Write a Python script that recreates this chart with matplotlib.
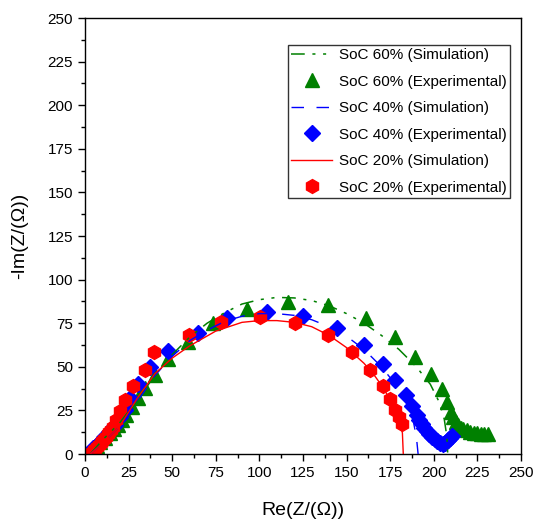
import numpy as np
import matplotlib
matplotlib.use('Agg')
import matplotlib.pyplot as plt
from matplotlib.ticker import MultipleLocator

plt.rcParams['font.family'] = ['Liberation Sans', 'DejaVu Sans']

# SoC 60%
sim60_re = [3, 10, 20, 30, 40, 50, 60, 70, 80, 90, 100, 110, 120, 130, 140, 150, 160, 170, 180, 190, 198, 203, 206, 207.5, 208]
sim60_im = [0, 8, 18, 31, 45, 57, 67, 75, 81, 86, 88.5, 89.8, 89.5, 88, 85, 80.5, 75, 68, 60, 50, 40, 30, 20, 10, 0]
exp60_re = [4.8, 6.7, 8.6, 11.5, 14.3, 16.7, 19.1, 21.3, 23.5, 26.8, 30.6, 34.4, 40.1, 47.8, 59.2, 73.6, 92.7,
            116.6, 139.5, 161.1, 177.8, 189.2, 198.4, 204.5, 207.4, 209.7, 211, 212.5, 214, 215.5, 217,
            219, 221, 223, 225, 227, 229, 231]
exp60_im = [2.3, 4.6, 7, 9.4, 11.8, 14.2, 16.6, 19.5, 22.4, 27.1, 31.9, 37.7, 45.3, 54.3, 64.4, 74.9, 83,
            87.3, 85.4, 77.8, 67.3, 55.8, 45.7, 37.1, 30, 24.3, 21, 18.5, 16.5, 15.2, 14.2,
            13.5, 12.8, 12.3, 12, 11.7, 11.5, 11.3]

# SoC 40%
sim40_re = [3, 10, 20, 30, 40, 50, 60, 70, 80, 90, 100, 110, 120, 130, 140, 150, 160, 170, 178, 184, 188, 190, 191]
sim40_im = [0, 6, 16, 30, 45, 56, 65, 71, 76, 79, 80.5, 80.5, 79.5, 77, 73, 67.5, 60, 50, 40, 30, 20, 10, 0]
exp40_re = [2.9, 4.8, 6.7, 8.1, 9.5, 11, 12.4, 13.7, 15, 16.1, 17.2, 20, 22.9, 25.8, 30.6, 37.3, 47.8, 65,
            81.2, 104.2, 124.8, 144.7, 160, 171, 178, 183.9, 187.3, 190.2, 191.5, 193, 194.5, 196, 197.5,
            199, 200.5, 202, 203.5, 205, 206.5, 208, 209.2, 210.2]
exp40_im = [1.3, 3.2, 5.2, 6.6, 8, 9.5, 10.9, 12.5, 14, 15.3, 16.6, 21, 25.2, 31.9, 40, 49.7, 59.1, 69.6,
            78.2, 81.2, 79.3, 72, 62.5, 51.4, 42.4, 33.8, 27.5, 22.4, 19.5, 17, 15, 13, 11.3,
            9.8, 8.5, 7.3, 6.5, 6, 6.5, 7.8, 9, 10.3]

# SoC 20%
sim20_re = [3, 10, 20, 30, 40, 50, 60, 75, 90, 100, 110, 120, 130, 140, 150, 160, 166, 171, 175, 178, 180.5, 182, 182.5]
sim20_im = [0, 6, 16, 32, 46, 55, 62, 70.5, 75.5, 76.5, 76.5, 75.5, 73, 68, 61, 52, 45, 38, 31, 25, 19, 12, 0]
exp20_re = [3.8, 5, 6, 7, 8, 9, 10, 11, 12, 13, 14, 15, 15.9, 17.8, 20.1, 22.9, 27.7, 34.4, 39.6, 59.8, 78,
            100.3, 120.4, 139.2, 153.3, 163.4, 170.7, 175.1, 177.8, 180.2, 182]
exp20_im = [1.3, 2.2, 3, 4.2, 5, 6.2, 7.5, 8.7, 10, 11.2, 12.5, 14, 15.7, 19.5, 24.7, 31, 39, 48.2, 58.7,
            68.2, 75.9, 78.7, 75.3, 68.2, 58.3, 48.2, 39, 31.5, 25.2, 21, 17.2]

fig = plt.figure(figsize=(5.36, 5.19), dpi=100)
ax = fig.add_axes([0.1586, 0.1252, 0.8134, 0.8401])

ax.plot(sim60_re, sim60_im, color='green', lw=1.1, linestyle=(0, (9, 5, 2, 5, 2, 5)), label='SoC 60% (Simulation)', zorder=3)
ax.plot(exp60_re, exp60_im, linestyle='none', marker='^', color='green', markersize=9.5, label='SoC 60% (Experimental)', zorder=2)
ax.plot(sim40_re, sim40_im, color='blue', lw=1, linestyle=(0, (9, 9)), label='SoC 40% (Simulation)', zorder=3)
ax.plot(exp40_re, exp40_im, linestyle='none', marker='D', color='blue', markersize=8, label='SoC 40% (Experimental)', zorder=2)
ax.plot(sim20_re, sim20_im, color='red', lw=1, label='SoC 20% (Simulation)', zorder=3)
ax.plot(exp20_re, exp20_im, linestyle='none', marker='h', color='red', markersize=10, label='SoC 20% (Experimental)', zorder=2)

ax.set_xlim(0, 250)
ax.set_ylim(0, 250)
ax.xaxis.set_major_locator(MultipleLocator(25))
ax.yaxis.set_major_locator(MultipleLocator(25))
ax.xaxis.set_minor_locator(MultipleLocator(12.5))
ax.yaxis.set_minor_locator(MultipleLocator(12.5))
ax.tick_params(which='major', direction='out', length=5, width=1, labelsize=11)
ax.tick_params(which='minor', direction='out', length=3, width=1)
for s in ax.spines.values():
    s.set_linewidth(1)

ax.set_xlabel('Re(Z/(\u03a9))', fontsize=14, labelpad=16)
ax.set_ylabel('-Im(Z/(\u03a9))', fontsize=14, labelpad=14)

leg = ax.legend(loc='upper right', bbox_to_anchor=(0.975, 0.938), fontsize=11, frameon=True,
                fancybox=False, edgecolor='black', handlelength=2.7, handletextpad=0.45,
                borderpad=0.2, labelspacing=0.82, borderaxespad=0)
leg.get_frame().set_linewidth(1)

fig.savefig('out.png', dpi=100)
